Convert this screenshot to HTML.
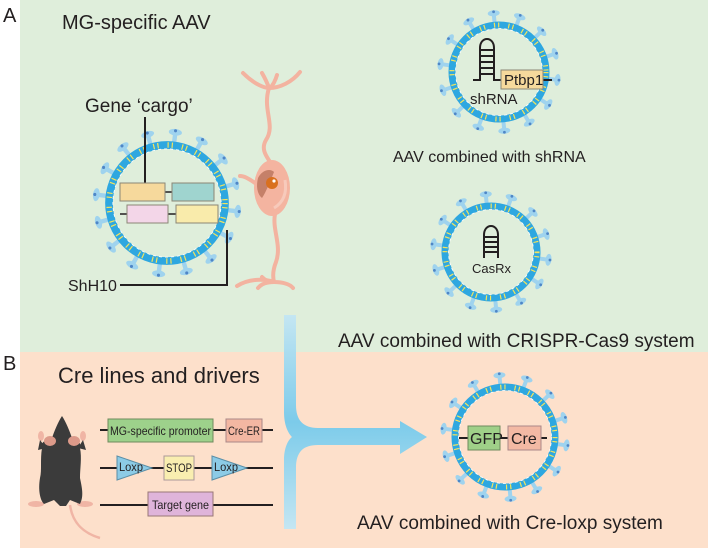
<!DOCTYPE html>
<html><head><meta charset="utf-8"><style>
html,body{margin:0;padding:0;background:#fff}
svg{display:block}
text{font-family:"Liberation Sans",Arial,sans-serif;fill:#231f20}
</style></head><body>
<svg id="s" width="708" height="550" viewBox="0 0 708 550" xmlns="http://www.w3.org/2000/svg">
<rect x="20" y="0" width="688" height="352" fill="#dfeedb"/>
<rect x="20" y="352" width="688" height="196" fill="#fde0cb"/>
<text x="3" y="22" font-size="20">A</text>
<text x="3" y="370" font-size="20">B</text>
<text x="62" y="29" font-size="20">MG-specific AAV</text>
<text x="85" y="112" font-size="19">Gene ‘cargo’</text>
<text x="68" y="291" font-size="16">ShH10</text>
<text x="393" y="162" font-size="16">AAV combined with shRNA</text>
<text x="338" y="347" font-size="19">AAV combined with CRISPR-Cas9 system</text>
<text x="58" y="383" font-size="22">Cre lines and drivers</text>
<text x="357" y="529" font-size="19">AAV combined with Cre-loxp system</text>

<!-- neuron -->
<g stroke="#f3b3a0" stroke-width="4" fill="none" stroke-linecap="round">
<path d="M269 88 C262 110 276 125 266 140 C260 150 268 158 270 162"/>
<path d="M243 73 C255 85 265 88 269 88 C280 88 292 82 300 72"/>
<path d="M262 73 C266 80 268 85 269 88 M277 75 C275 82 272 86 270 88"/>
<path d="M275 214 C272 230 282 245 276 262 C272 272 273 278 274 282"/>
<path d="M237 286 C250 278 265 279 274 282 C282 282 290 284 293 288"/>
<path d="M262 277 C265 280 268 282 274 282 M258 288 C262 283 268 282 274 282"/>
<path d="M255 183 C248 178 244 176 240 176"/>
</g>
<ellipse cx="272" cy="188" rx="18" ry="28" fill="#f4b4a0"/>
<path d="M258 178 C262 170 270 168 274 172 C270 182 266 192 262 198 C257 194 256 186 258 178Z" fill="#c58069"/>
<circle cx="272" cy="183" r="6" fill="#d9701f"/>
<circle cx="274" cy="181" r="1.6" fill="#fff"/>
<path d="M285 180 C287 192 284 202 274 208" stroke="#f7cabb" stroke-width="3" fill="none"/>

<g id="viruses"></g>

<!-- big virus content -->
<line x1="145" y1="117" x2="145" y2="183" stroke="#231f20" stroke-width="2"/>
<path d="M227 230 V285 H120" stroke="#231f20" stroke-width="2" fill="none"/>
<line x1="165" y1="192" x2="172" y2="192" stroke="#231f20" stroke-width="1.5"/>
<line x1="120" y1="214" x2="127" y2="214" stroke="#231f20" stroke-width="1.5"/>
<line x1="168" y1="214" x2="176" y2="214" stroke="#231f20" stroke-width="1.5"/>
<rect x="120" y="183" width="45" height="18" fill="#f6d99c" stroke="#8b8676"/>
<rect x="172" y="183" width="42" height="18" fill="#9fd4cf" stroke="#8b8676"/>
<rect x="127" y="205" width="41" height="18" fill="#f3d6e8" stroke="#8b8676"/>
<rect x="176" y="205" width="42" height="18" fill="#f9ebab" stroke="#8b8676"/>

<!-- shRNA -->
<g stroke="#231f20" stroke-width="2" fill="none">
<path d="M473 80 H480 V48 C480 36 494 36 494 48 V80 H502"/>
<line x1="480" y1="50" x2="494" y2="50"/><line x1="480" y1="56" x2="494" y2="56"/><line x1="480" y1="62" x2="494" y2="62"/><line x1="480" y1="68" x2="494" y2="68"/><line x1="480" y1="74" x2="494" y2="74"/>
<line x1="543" y1="80" x2="552" y2="80"/>
</g>
<rect x="501" y="70" width="42" height="19" fill="#f6d99c" stroke="#8b8676"/>
<text x="504" y="85" font-size="15">Ptbp1</text>
<text x="470" y="104" font-size="15">shRNA</text>
<!-- CasRx -->
<g stroke="#231f20" stroke-width="2" fill="none">
<path d="M484 258 V235 C484 223 498 223 498 235 V258"/>
<line x1="484" y1="237" x2="498" y2="237"/><line x1="484" y1="242" x2="498" y2="242"/><line x1="484" y1="247" x2="498" y2="247"/><line x1="484" y1="252" x2="498" y2="252"/>
</g>
<text x="472" y="273" font-size="13">CasRx</text>
<!-- GFP Cre -->
<g stroke="#231f20" stroke-width="2"><line x1="459" y1="438" x2="547" y2="438"/></g>
<rect x="468" y="426" width="32" height="24" fill="#9fd088" stroke="#6e8a5e"/>
<rect x="508" y="426" width="33" height="24" fill="#f3b9a4" stroke="#a88"/>
<text x="470" y="444" font-size="16">GFP</text>
<text x="511" y="444" font-size="16">Cre</text>

<!-- arrow -->
<defs><linearGradient id="g" x1="0" y1="0" x2="0" y2="1"><stop offset="0" stop-color="#c4e6f2"/><stop offset="0.5" stop-color="#7ccbea"/><stop offset="1" stop-color="#c4e6f2"/></linearGradient></defs>
<path d="M284 315 H296 V405 C296 420 303 428 318 428 H400 V421 L427 437 L400 454 V445 H318 C303 445 296 452 296 468 V529 H284 V460 C284 448 288 440 292 437 C288 433 284 425 284 412 Z" fill="url(#g)"/>

<!-- genetics -->
<g stroke="#231f20" stroke-width="2">
<line x1="100" y1="430" x2="273" y2="430"/>
<line x1="100" y1="468" x2="273" y2="468"/>
<line x1="100" y1="505" x2="273" y2="505"/>
</g>
<rect x="108" y="419" width="105" height="23" fill="#9dd18b" stroke="#6e8a5e"/>
<text x="110" y="435" font-size="12" textLength="101" lengthAdjust="spacingAndGlyphs">MG-specific promoter</text>
<rect x="226" y="419" width="36" height="23" fill="#f3b7a2" stroke="#a88"/>
<text x="228" y="435" font-size="12" textLength="32" lengthAdjust="spacingAndGlyphs">Cre-ER</text>
<path d="M117 456 L152 468 L117 480Z" fill="#8ccbe6" stroke="#5b8ea6"/>
<text x="119" y="471" font-size="12" textLength="24" lengthAdjust="spacingAndGlyphs">Loxp</text>
<rect x="164" y="456" width="30" height="24" fill="#f9eeb0" stroke="#a99"/>
<text x="166" y="472" font-size="12" textLength="26" lengthAdjust="spacingAndGlyphs">STOP</text>
<path d="M212 456 L247 468 L212 480Z" fill="#8ccbe6" stroke="#5b8ea6"/>
<text x="214" y="471" font-size="12" textLength="24" lengthAdjust="spacingAndGlyphs">Loxp</text>
<rect x="148" y="492" width="65" height="24" fill="#dfb4da" stroke="#977"/>
<text x="152" y="509" font-size="12" textLength="57" lengthAdjust="spacingAndGlyphs">Target gene</text>

<!-- mouse -->
<path d="M70 505 C72 520 80 532 100 538" stroke="#f0b5a5" stroke-width="2.5" fill="none"/>
<g fill="#f0b5a5"><ellipse cx="41" cy="436" rx="3" ry="5"/><ellipse cx="83" cy="436" rx="3" ry="5"/><ellipse cx="36" cy="504" rx="8" ry="3"/><ellipse cx="85" cy="504" rx="8" ry="3"/></g>
<path d="M62 416 C58 422 54 432 52 438 C46 440 40 442 42 448 C40 460 42 470 40 478 C38 490 40 500 44 504 L54 500 L60 506 L66 506 L70 500 L80 504 C84 496 82 488 80 478 C80 468 82 458 80 448 C82 442 76 440 72 438 C70 432 66 422 62 416Z" fill="#3b3b3b"/>
<path d="M40 440 L38 450 L46 448Z M83 440 L86 450 L78 448Z" fill="#3b3b3b"/>
<ellipse cx="50" cy="441" rx="6" ry="5" fill="#dc9a8a"/>
<ellipse cx="74" cy="441" rx="6" ry="5" fill="#dc9a8a"/>
</svg>
<script>
(function(){
var ns="http://www.w3.org/2000/svg",g=document.getElementById("viruses");
function el(t,a){var e=document.createElementNS(ns,t);for(var k in a)e.setAttribute(k,a[k]);g.appendChild(e);return e;}
function virus(cx,cy,r,n,sc){
 for(var i=0;i<n;i++){var a=(i+0.3)/n*2*Math.PI,c=Math.cos(a),s=Math.sin(a);
  var x1=cx+c*r,y1=cy+s*r,x2=cx+c*(r+12*sc),y2=cy+s*(r+12*sc);
  el("line",{x1:x1,y1:y1,x2:x2,y2:y2,stroke:"#9fd3ee","stroke-width":4*sc});
  el("ellipse",{cx:x2,cy:y2,rx:6*sc,ry:3*sc,fill:"#9fd3ee",transform:"rotate("+(a*180/Math.PI+90)+" "+x2+" "+y2+")"});
  el("circle",{cx:x2+c*1.5,cy:y2+s*1.5,r:1.4*sc,fill:"#4f86c6"});}
 el("circle",{cx:cx,cy:cy,r:r,fill:"none",stroke:"#2ea7e0","stroke-width":7*sc});
 el("circle",{cx:cx,cy:cy,r:r,fill:"none",stroke:"#f3e35c","stroke-width":5*sc,"stroke-dasharray":"1.2 3 1.2 9"});
 el("circle",{cx:cx,cy:cy,r:r-3.5*sc,fill:"none",stroke:"#fff","stroke-width":0.8,"stroke-dasharray":"3 3"});
}
virus(167,203,58,16,1.1);
virus(499,72,47,14,1);
virus(491,252,46,14,1);
virus(505,437,50,14,1);
})();
</script>
</body></html>
